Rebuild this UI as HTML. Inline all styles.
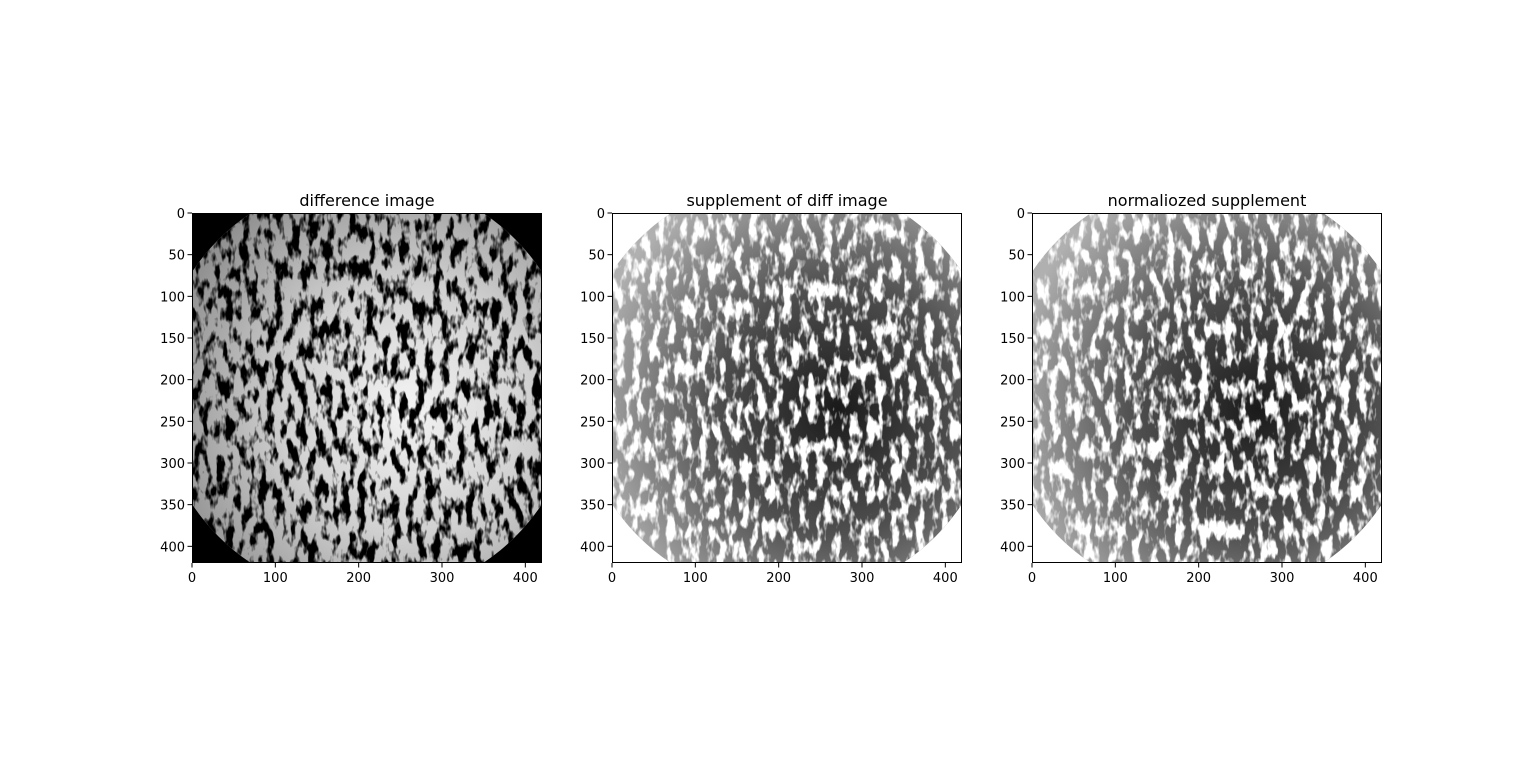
<!DOCTYPE html>
<html><head><meta charset="utf-8"><style>
html,body{margin:0;padding:0;background:#fff;}
svg{display:block;font-family:"DejaVu Sans","Liberation Sans",sans-serif;}
</style></head><body>
<svg id="fig" width="1536" height="771" viewBox="0 0 1536 771">
<defs>
  <radialGradient id="g1" cx="0.6" cy="0.55" r="0.6">
    <stop offset="0" stop-color="#f4f4f4"/><stop offset="0.5" stop-color="#d0d0d0"/><stop offset="1" stop-color="#909090"/>
  </radialGradient>
  <radialGradient id="g2" cx="0.62" cy="0.55" r="0.6">
    <stop offset="0" stop-color="#1a1a1a"/><stop offset="0.5" stop-color="#505050"/><stop offset="1" stop-color="#b0b0b0"/>
  </radialGradient>
  <filter id="speck" x="0" y="0" width="1" height="1">
    <feTurbulence type="fractalNoise" baseFrequency="0.12 0.05" numOctaves="3" seed="3" result="n"/>
    <feColorMatrix in="n" type="matrix" values="0 0 0 0 0  0 0 0 0 0  0 0 0 0 0  0 0 0 -6 3.2" result="a"/>
    <feComposite in="SourceGraphic" in2="a" operator="in"/>
  </filter>
</defs>
</svg>
<script>
const xTicks=[0,100,200,300,400];
const yTicks=[0,50,100,150,200,250,300,350,400];
const titles=["difference image","supplement of diff image","normaliozed supplement"];
const panelsX=[192,612,1032];
const plotTop=213, size=350, extent=420;
const svg=document.getElementById('fig');
const NS="http://www.w3.org/2000/svg";
function mk(t,a){const e=document.createElementNS(NS,t);for(const k in a)e.setAttribute(k,a[k]);return e;}
function sx(x0,v){return x0+v*size/extent;}
function sy(v){return plotTop+v*size/extent;}
titles.forEach((title,i)=>{
  const x0=panelsX[i];
  const g=mk('g',{});
  
  
  svg.appendChild(g);
  const cid='clip'+i;
  const cp=mk('clipPath',{id:cid});cp.appendChild(mk('rect',{x:x0,y:plotTop,width:size,height:size}));g.appendChild(cp);
  const img=mk('g',{'clip-path':'url(#'+cid+')'});
  
  
  g.appendChild(img);
  const bg=i===0?'#000':'#fff';
  img.appendChild(mk('rect',{x:x0,y:plotTop,width:size,height:size,fill:bg}));
  const cx=sx(x0,210),cy=sy(210),r=252*size/extent;
  img.appendChild(mk('circle',{cx:cx,cy:cy,r:r,fill:i===0?'url(#g1)':'url(#g2)'}));
  const sp=mk('circle',{cx:cx,cy:cy,r:r,fill:i===0?'#000':'#fff',filter:'url(#speck)'});
  img.appendChild(sp);
  g.appendChild(mk('rect',{x:x0+0.5,y:plotTop+0.5,width:size-1,height:size-1,fill:'none',stroke:'#000','stroke-width':1}));
  const t=mk('text',{x:x0+size/2,y:plotTop-7,'text-anchor':'middle','font-size':16});
  t.textContent=title;
  
  
  g.appendChild(t);
  xTicks.forEach(v=>{
    const x=sx(x0,v);
    g.appendChild(mk('line',{x1:x,x2:x,y1:plotTop+size,y2:plotTop+size+4.5,stroke:'#000'}));
    const l=mk('text',{x:x,y:plotTop+size+19,'text-anchor':'middle','font-size':13});
    l.textContent=v;
    
    
    g.appendChild(l);
  });
  yTicks.forEach(v=>{
    const y=sy(v);
    g.appendChild(mk('line',{x1:x0-4.5,x2:x0,y1:y,y2:y,stroke:'#000'}));
    const l=mk('text',{x:x0-7,y:y+5,'text-anchor':'end','font-size':13});
    l.textContent=v;
    
    
    g.appendChild(l);
  });
});
</script>
</body></html>
